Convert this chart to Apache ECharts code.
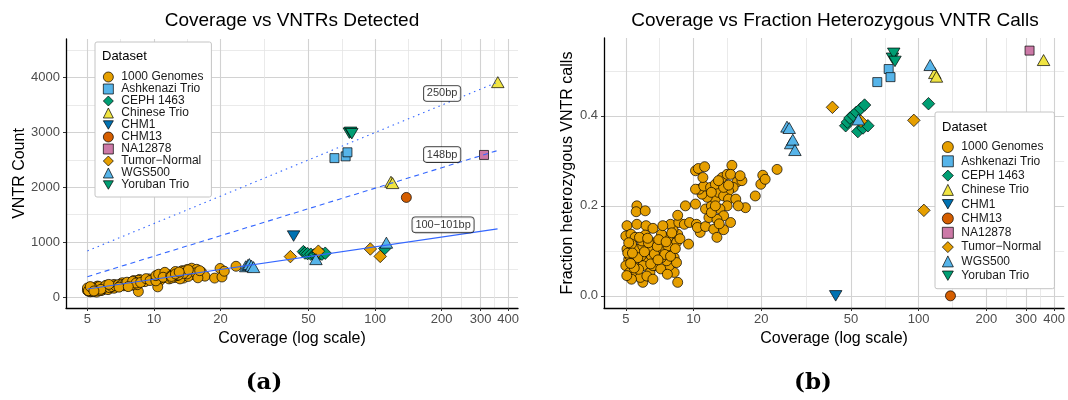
<!DOCTYPE html>
<html><head><meta charset="utf-8">
<script src="https://cdn.jsdelivr.net/npm/echarts@6/dist/echarts.min.js"></script>
<style>html,body{margin:0;padding:0;background:#fff}#chart{width:1068px;height:400px}</style>
</head><body><div id="chart"></div>
<script>
// ---------- DATA ----------
const datasetNames = ['1000 Genomes','Ashkenazi Trio','CEPH 1463','Chinese Trio','CHM1','CHM13','NA12878','Tumor\u2212Normal','WGS500','Yoruban Trio'];

const g1kCoverage = [5.06,5.6,5.56,6.1,5.6,5.0,5.27,5.5,6.15,6.6,6.1,5.06,5.4,5.15,5.0,5.2,5.5,5.95,5.8,6.4,
 6.8,6.2,6.5,7.1,7.4,7.8,8.4,8.5,8.1,7.9,8.6,9.1,8.5,8.2,8.5,7.8,7.6,7.2,6.6,5.95,
 5.85,5.7,6.4,6.8,7.3,7.7,7.2,7.95,8.2,8.4,6.2,6.6,5.2,5.4,5.7,5.3,5.95,9.5,7.3,7.7,
 5.1,5.3,5.45,5.65,5.9,6.05,6.3,6.45,6.7,6.9,7.0,7.15,7.45,7.55,7.9,8.0,8.3,5.05,5.25,5.75,6.25,6.95,7.65,8.7,5.15,5.35,
 9.2,9.6,10.3,10.7,10.4,11.3,12.3,12.7,13.6,14.6,10.2,11.3,11.7,12.0,12.5,12.9,11.5,10.9,10.6,10.2,11.1,10.2,10.5,11.2,
 11.0,11.9,12.5,13.4,14.1,14.8,14.6,15.6,16.4,15.0,14.3,13.6,14.3,15.4,14.1,13.1,13.6,17.0,15.8,12.7,12.0,13.6,12.9,14.3,16.1,12.0,12.5,13.0,
 18.8,19.9,20.3,20.8,23.5];
const g1kVntrs = [150,175,200,215,160,120,140,185,175,230,195,105,130,95,165,110,90,140,120,165,
 210,150,185,245,220,265,290,240,300,250,320,280,305,210,100,230,200,215,175,155,
 170,145,200,190,235,210,260,245,270,225,135,160,125,150,115,100,180,330,205,240,
 135,160,125,190,160,210,170,190,205,225,195,225,250,270,215,285,255,115,170,140,230,180,190,265,190,110,
 335,300,355,310,185,395,420,370,345,430,320,360,330,400,355,440,410,375,340,295,430,390,415,450,
 360,385,465,480,500,525,470,505,455,410,455,395,375,440,420,330,470,380,350,390,345,430,400,495,480,375,420,455,
 345,520,365,470,560];
const g1kHet = [.156,.200,.187,.189,.159,.133,.137,.130,.156,.150,.135,.104,.107,.081,.067,.052,.044,.030,.041,.052,
 .067,.074,.089,.096,.107,.115,.119,.137,.147,.159,.163,.159,.179,.052,.030,.067,.078,.085,.067,.067,
 .089,.104,.104,.119,.126,.130,.137,.100,.085,.074,.044,.037,.089,.074,.059,.037,.111,.115,.156,.111,
 .095,.115,.062,.085,.122,.098,.118,.071,.093,.110,.125,.060,.092,.120,.088,.140,.105,.045,.072,.130,.128,.080,.048,.127,.118,.095,
 .200,.163,.159,.141,.152,.154,.148,.130,.147,.163,.204,.193,.174,.200,.215,.230,.219,.226,.237,.237,.244,.278,.283,.287,
 .263,.241,.248,.263,.270,.290,.270,.253,.256,.241,.233,.222,.215,.215,.200,.193,.178,.196,.200,.170,.185,.241,.256,.246,.267,.230,.200,.160,
 .222,.248,.268,.259,.281];

const ashkCoverage = [65.5,73.6,75.0];
const ashkVntrs = [2530,2562,2636];
const ashkHet = [0.475,0.504,0.486];

const cephCoverage = [47.4,48.2,49.5,51.2,52.9,53.7,55.2,56.6,57.5,59.5,110.6];
const cephVntrs = [827,800,790,780,767,775,798,785,780,798,885];
const cephHet = [0.378,0.386,0.395,0.401,0.408,0.365,0.416,0.373,0.424,0.378,0.427];

const chineseCoverage = [118,120,359];
const chineseVntrs = [2100,2075,3914];
const chineseHet = [0.495,0.487,0.524];

const chm1Coverage = [42.8];
const chm1Vntrs = [1110];
const chm1Het = [0];

const chm13Coverage = [138.5];
const chm13Vntrs = [1814];
const chm13Het = [0];

const na12878Coverage = [311];
const na12878Vntrs = [2588];
const na12878Het = [0.545];

const tumorCoverage = [41.4,55.4,95.2,105.5];
const tumorVntrs = [736,835,875,740];
const tumorHet = [0.419,0.388,0.390,0.190];

const wgsCoverage = [26.0,26.6,27.0,27.6,28.2,54.0,112.5];
const wgsVntrs = [560,585,600,570,545,690,990];
const wgsHet = [0.376,0.373,0.339,0.347,0.324,0.392,0.513];

const yorubanCoverage = [76.5,77.5,78.5];
const yorubanVntrs = [2985,3000,2975];
const yorubanHet = [0.528,0.539,0.521];

// regression lines (read at the ends of the data range)
const fitCoverage = [5, 358];
const fit100bp = [146, 1242];
const fit148bp = [371, 2668];
const fit250bp = [840, 3914];
const fitLabelTexts = ['250bp', '148bp', '100\u2212101bp'];
const fitLabelCoverage = [201, 201, 203];
const fitLabelVntrs = [3708, 2594, 1315];

// axis ticks
const xTickValues = [5,10,20,50,100,200,300,400];
const xMinorValues = [7.07,14.14,31.62,70.71,141.42,244.95,346.41];
const countTicks = [0,1000,2000,3000,4000];
const countMinor = [500,1500,2500,3500,4500];
const hetTicks = [0,0.2,0.4];
const hetTickLabels = ['0.0','0.2','0.4'];
const hetMinor = [0.1,0.3,0.5];

// ---------- STYLE ----------
const datasetColors = ['#E69F00','#56B4E9','#009E73','#F0E442','#0072B2','#D55E00','#CC79A7','#E69F00','#56B4E9','#009E73'];
const downTri = 'path://M0,0L2,0L1,1.7Z';
const datasetSymbols = ['circle','rect','diamond','triangle',downTri,'circle','rect','diamond','triangle',downTri];
const datasetSizes = [10,9,12.5,[12.5,11],[12.5,10.5],10,9,12.5,[12.5,11],[12.5,10.5]];
const FONT = '"Liberation Sans", Arial, sans-serif';

const covArrays = [g1kCoverage, ashkCoverage, cephCoverage, chineseCoverage, chm1Coverage, chm13Coverage, na12878Coverage, tumorCoverage, wgsCoverage, yorubanCoverage];
const vntrArrays = [g1kVntrs, ashkVntrs, cephVntrs, chineseVntrs, chm1Vntrs, chm13Vntrs, na12878Vntrs, tumorVntrs, wgsVntrs, yorubanVntrs];
const hetArrays = [g1kHet, ashkHet, cephHet, chineseHet, chm1Het, chm13Het, na12878Het, tumorHet, wgsHet, yorubanHet];

const lg = Math.log10;
const xMin = lg(4.0), xMax = lg(443);

function majorX(grid, name) {
  return {
    type:'value', gridIndex:grid, min:xMin, max:xMax,
    name:name, nameLocation:'middle', nameGap:15,
    nameTextStyle:{fontFamily:FONT, fontSize:16, color:'#000'},
    axisLine:{show:true, onZero:false, lineStyle:{color:'#000', width:1.3}},
    axisTick:{show:true, length:3, customValues:xTickValues.map(lg), lineStyle:{color:'#333'}},
    axisLabel:{show:true, customValues:xTickValues.map(lg), margin:5, color:'#4d4d4d', fontFamily:FONT, fontSize:13,
      formatter:v=>String(Math.round(Math.pow(10,v)))},
    splitLine:{show:true, lineStyle:{color:'#d2d2d2', width:1.1}}
  };
}
function minorX(grid) {
  return {
    type:'value', gridIndex:grid, min:xMin, max:xMax, position:'bottom',
    axisLine:{show:false}, axisLabel:{show:false},
    axisTick:{show:false, customValues:xMinorValues.map(lg)},
    splitLine:{show:true, lineStyle:{color:'#e4e4e4', width:0.8}}
  };
}
function majorY(grid, min, max, ticks, fmt, name, gap) {
  return {
    type:'value', gridIndex:grid, min:min, max:max,
    name:name, nameLocation:'middle', nameGap:gap,
    nameTextStyle:{fontFamily:FONT, fontSize:16, color:'#000'},
    axisLine:{show:true, onZero:false, lineStyle:{color:'#000', width:1.3}},
    axisTick:{show:true, length:3, customValues:ticks, lineStyle:{color:'#333'}},
    axisLabel:{show:true, customValues:ticks, margin:6, color:'#4d4d4d', fontFamily:FONT, fontSize:13, formatter:fmt},
    splitLine:{show:true, lineStyle:{color:'#d2d2d2', width:1.1}}
  };
}
function minorY(grid, min, max, vals) {
  return {
    type:'value', gridIndex:grid, min:min, max:max, position:'left',
    axisLine:{show:false}, axisLabel:{show:false},
    axisTick:{show:false, customValues:vals},
    splitLine:{show:true, lineStyle:{color:'#e4e4e4', width:0.8}}
  };
}

const series = [];
datasetNames.forEach((name, i) => {
  const common = {
    type:'scatter', name:name, symbol:datasetSymbols[i], symbolSize:datasetSizes[i],
    itemStyle:{color:datasetColors[i], borderColor:'#000', borderWidth:0.7, opacity:1},
    emphasis:{disabled:true}, z:2
  };
  series.push(Object.assign({}, common, {xAxisIndex:0, yAxisIndex:0,
    data: covArrays[i].map((c,k)=>[lg(c), vntrArrays[i][k]])}));
  series.push(Object.assign({}, common, {xAxisIndex:2, yAxisIndex:2,
    data: covArrays[i].map((c,k)=>[lg(c), hetArrays[i][k]])}));
});
const fits = [[fit100bp,'solid'],[fit148bp,[5,4]],[fit250bp,[1.5,4]]];
fits.forEach(([vals, type]) => {
  series.push({type:'line', xAxisIndex:0, yAxisIndex:0, symbol:'none', silent:true, z:3,
    data: fitCoverage.map((c,k)=>[lg(c), vals[k]]),
    lineStyle:{color:'#3366FF', width:1.1, type:type}});
});
series.push({type:'scatter', xAxisIndex:0, yAxisIndex:0, symbolSize:0, silent:true, z:5,
  data: fitLabelCoverage.map((c,k)=>[lg(c), fitLabelVntrs[k]]),
  label:{show:true, position:'inside', formatter:p=>fitLabelTexts[p.dataIndex],
    backgroundColor:'#fff', borderColor:'#000', borderWidth:0.8, borderRadius:3, padding:[2,3,2,3],
    fontFamily:FONT, fontSize:11, color:'#000'}});

function legendCfg(left, top, pad, ih, gap) {
  return {
    show:true, orient:'vertical', left:left, top:top, padding:pad,
    itemWidth:ih, itemHeight:ih, itemGap:gap, selectedMode:false,
    backgroundColor:'#fff', borderColor:'#c4c4c4', borderWidth:1, borderRadius:2,
    textStyle:{fontFamily:FONT, fontSize:12, color:'#1a1a1a', padding:[0,0,0,3]},
    itemStyle:{borderColor:'#000', borderWidth:0.7},
    data: datasetNames.map((n,i)=>({name:n, icon:datasetSymbols[i]}))
  };
}

const option = {
  animation:false,
  textStyle:{fontFamily:FONT},
  grid:[
    {left:66, top:39, width:452, height:269},
    {left:604, top:38, width:462, height:270}
  ],
  xAxis:[ majorX(0,'Coverage (log scale)'), minorX(0), majorX(1,'Coverage (log scale)'), minorX(1) ],
  yAxis:[
    majorY(0, -200, 4700, countTicks, v=>String(Math.round(v)), 'VNTR Count', 38),
    minorY(0, -200, 4700, countMinor),
    majorY(1, -0.027, 0.573, hetTicks, v=>hetTickLabels[hetTicks.findIndex(t=>Math.abs(t-v)<1e-6)] ?? v.toFixed(1), 'Fraction heterozygous VNTR calls', 28),
    minorY(1, -0.027, 0.573, hetMinor)
  ],
  legend:[
    legendCfg(95, 42, [29,8,6,8], 10, 0),
    legendCfg(935, 112, [29,11,7,7], 11, 2.3)
  ],
  graphic:[
    {type:'text', x:292, y:21, z:100, style:{text:'Coverage vs VNTRs Detected', font:'19px '+FONT, fill:'#000', textAlign:'center', textVerticalAlign:'middle'}},
    {type:'text', x:835, y:21, z:100, style:{text:'Coverage vs Fraction Heterozygous VNTR Calls', font:'19px '+FONT, fill:'#000', textAlign:'center', textVerticalAlign:'middle'}},
    {type:'text', x:102, y:56, z:100, style:{text:'Dataset', font:'13px '+FONT, fill:'#000', textAlign:'left', textVerticalAlign:'middle'}},
    {type:'text', x:942, y:127, z:100, style:{text:'Dataset', font:'13px '+FONT, fill:'#000', textAlign:'left', textVerticalAlign:'middle'}},
    {type:'text', x:264, y:383, z:100, style:{text:'(a)', font:'bold 23px "DejaVu Serif", serif', fill:'#000', textAlign:'center', textVerticalAlign:'middle'}},
    {type:'text', x:813, y:383, z:100, style:{text:'(b)', font:'bold 23px "DejaVu Serif", serif', fill:'#000', textAlign:'center', textVerticalAlign:'middle'}}
  ],
  series:series
};
echarts.init(document.getElementById('chart')).setOption(option);
</script></body></html>
